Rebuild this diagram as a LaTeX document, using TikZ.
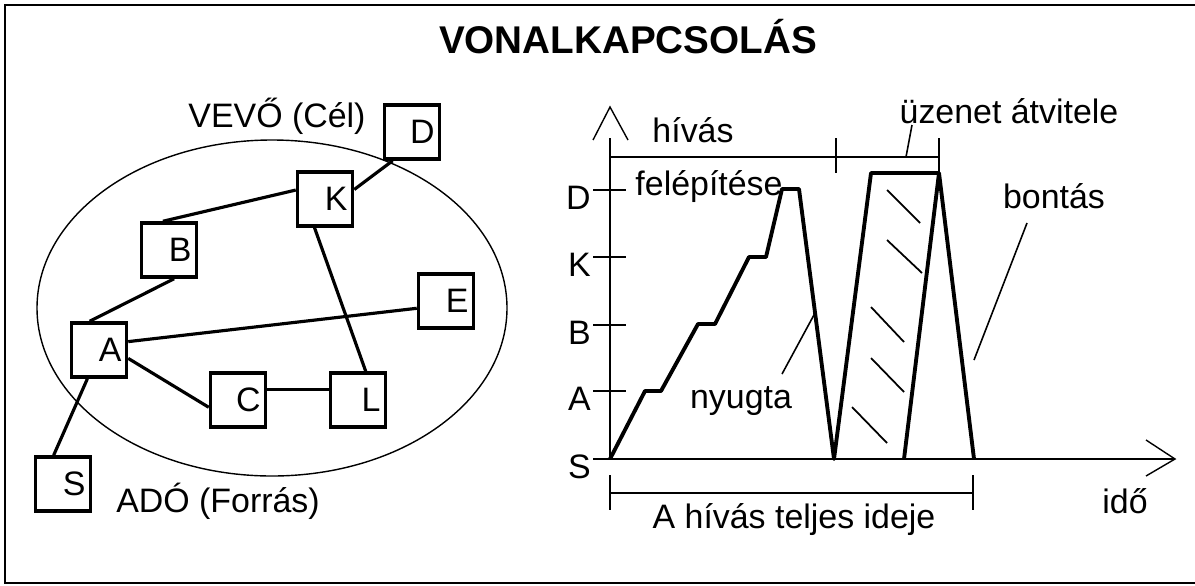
\documentclass[tikz,border=0pt]{standalone}
\usepackage{fontspec}
\setmainfont{Liberation Sans}
\usetikzlibrary{positioning, calc}
\newcommand{\labfont}{\fontsize{19.3}{22}\selectfont}
\newcommand{\headfont}{\fontsize{22}{26}\selectfont\bfseries}

\begin{document}
\begin{tikzpicture}[
        x=0.02cm, y=-0.02cm,
        % Network boxes
        station/.style={
            rectangle,
            draw,
            fill=white,
            line width=2pt,
            minimum width=1.1cm,
            minimum height=1.08cm,
            text width=0.9cm,
            inner xsep=0.1cm,
            align=right,
            font=\labfont
        },
        link/.style={line width=1.8pt},
        % Texts
        txt/.style={anchor=base, inner sep=0pt, font=\labfont},
        ylab/.style={anchor=base east, inner sep=0pt, font=\labfont},
        % Chart lines
        axis/.style={line width=0.8pt},
        signal/.style={line width=2.2pt, line join=round},
        hatch/.style={line width=1pt},
        leader/.style={line width=0.9pt}
    ]

    % --- FRAME & TITLE ---
    \draw[line width=1.3pt] (1200,5) -- (5,5) -- (5,583) -- (1200,583);
    \node[txt, font=\headfont] (title) at (628,53) {VONALKAPCSOLÁS};

    % --- NETWORK ---
    \draw[line width=0.8pt] (272,308) ellipse [x radius=235, y radius=168];

    \node[station] (D) at (412,132) {D};
    \node[station] (K) at (325,199) {K};
    \node[station] (B) at (169,250) {B};
    \node[station] (E) at (446,301) {E};
    \node[station] (A) at (99,350)  {A};
    \node[station] (C) at (238,400) {C};
    \node[station] (L) at (358,400) {L};
    \node[station] (S) at (63,484)  {S};

    \draw[link] (D.236) -- (K.18);
    \draw[link] (K.163) -- (B.102);
    \draw[link] (K.250) -- (L.75);
    \draw[link] (B.280) -- (A.108);
    \draw[link] (A.16)  -- (E.194);
    \draw[link] (A.344) -- (C.194);
    \draw[link] (C.20)  -- (L.160);
    \draw[link] (A.248) -- (S.108);

    \node[txt] (vevo) at (277,127) {VEVŐ (Cél)};
    \node[txt] (ado)  at (218,512) {ADÓ (Forrás)};

    % --- TIME CHART ---
    \coordinate (O) at (610,459);
    % axes with open heads
    \draw[axis] (O) -- (610,138);
    \draw[axis] (593,140) -- (610,107) -- (628,140);
    \draw[axis] (593,459) -- (1175,459);
    \draw[axis] (1146,440) -- (1175,459) -- (1146,476);

    % levels
    \foreach \lab/\yy in {A/391, B/325, K/257, D/190} {
        \draw[axis] (593,\yy) -- (626,\yy);
        \node[ylab] (lev\lab) at (591,{\yy+19}) {\lab};
    }
    \node[ylab] (levS) at (591,478) {S};

    % call set-up, message, release
    \draw[signal] (O) -- (645,391) -- (661,391) -- (698,324) -- (715,324)
        -- (749,257) -- (766,257) -- (782,189) -- (799,189) -- (834,459)
        -- (871,173) -- (939,173) -- (974,459);
    \draw[signal] (904,459) -- (939,173);
    \foreach \xa/\ya/\xb/\yb in {887/190/920/223, 887/240/922/273, 871/307/904/342,
                                 871/358/904/392, 852/407/887/443} {
        \draw[hatch] (\xa,\ya) -- (\xb,\yb);
    }

    % brackets
    \draw[axis] (610,157) -- (939,157);
    \draw[axis] (836,138) -- (836,173);
    \draw[axis] (939,138) -- (939,175);
    \draw[axis] (610,493) -- (973,493);
    \draw[axis] (610,475) -- (610,510);
    \draw[axis] (973,475) -- (973,510);

    % labels and leaders
    \node[txt] (hivas)   at (693,142)  {hívás};
    \node[txt] (felep)   at (709,195)  {felépítése};
    \node[txt] (uzenet)  at (1009,123) {üzenet átvitele};
    \node[txt] (bontas)  at (1054,208) {bontás};
    \node[txt] (nyugta)  at (741,408)  {nyugta};
    \node[txt] (teljes)  at (794,528)  {A hívás teljes ideje};
    \node[txt] (ido)     at (1125,513) {idő};

    \draw[leader] (912,125) -- (906,157);
    \draw[leader] (1027,223) -- (974,360);
    \draw[leader] (782,374) -- (815,313);

    \pgfresetboundingbox
    \path (0,0) rectangle (1195,585);

\end{tikzpicture}
\end{document}
